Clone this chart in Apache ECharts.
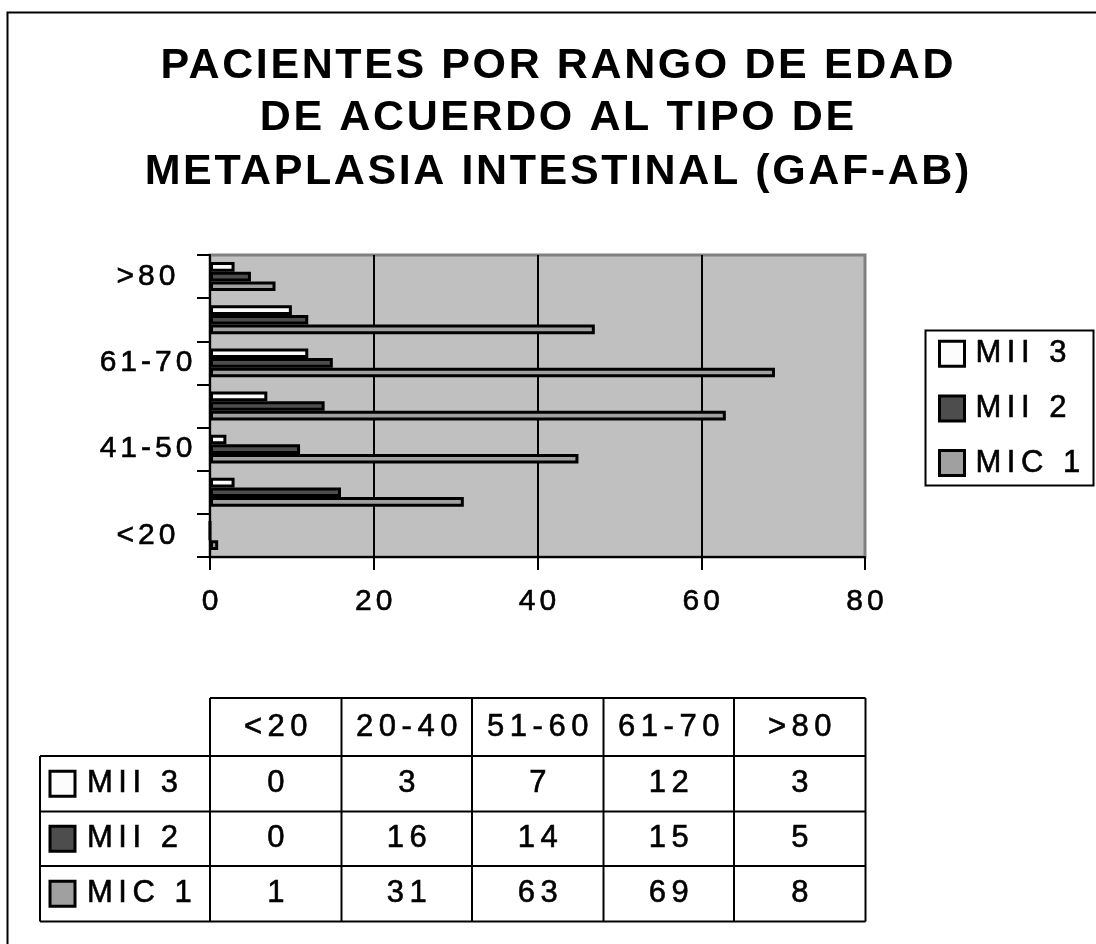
<!DOCTYPE html>
<html>
<head>
<meta charset="utf-8">
<script src="https://cdn.jsdelivr.net/npm/echarts@6/dist/echarts.min.js"></script>
<style>
  html, body { margin: 0; padding: 0; background: #fff; }
  #chart { width: 1096px; height: 944px; }
</style>
</head>
<body>
<div id="chart"></div>
<script>
// ---------------- DATA ----------------
const categories = ['<20', '20-40', '41-50', '51-60', '61-70', '71-80', '>80'];
const mic1 = [1, 31, 45, 63, 69, 47, 8];
const mii2 = [0, 16, 11, 14, 15, 12, 5];
const mii3 = [0, 3, 2, 7, 12, 10, 3];
const seriesNames = ['MII 3', 'MII 2', 'MIC 1'];
const legendOrder = ['MII 3', 'MII 2', 'MIC 1'];
const titleLines = ['PACIENTES POR RANGO DE EDAD', 'DE ACUERDO AL TIPO DE', 'METAPLASIA INTESTINAL (GAF-AB)'];
const tableCategories = ['<20', '20-40', '51-60', '61-70', '>80'];
const tableRows = ['MII 3', 'MII 2', 'MIC 1'];
const xMin = 0, xMax = 80, xStep = 20;

// ---------------- STYLE ----------------
const colors = { 'MIC 1': '#a0a0a0', 'MII 2': '#4d4d4d', 'MII 3': '#fcfcfc' };
const FONT = '"Liberation Sans", Arial, sans-serif';
const AXIS_FS = 30;   // axis labels
const TBL_FS = 31;    // table + legend
const TITLE_FS = 43;
const spacingBySize = { 43: 2.6, 30: 4, 31: 5.5 };
const TXT_STROKE = 0.6;

// letter spacing emulation for canvas text (the reference text is widely spaced)
(function () {
  const P = CanvasRenderingContext2D.prototype;
  function wrap(orig) {
    return function (text, x, y, maxW) {
      const m = /(\d+(?:\.\d+)?)px/.exec(this.font);
      const size = m ? parseFloat(m[1]) : 0;
      const ls = spacingBySize[size] || 0;
      const hasMax = arguments.length > 3 && maxW !== undefined;
      if (ls && ('letterSpacing' in this)) {
        const prev = this.letterSpacing;
        this.letterSpacing = ls + 'px';
        let xx = x;
        if (this.textAlign === 'center') xx += ls / 2;
        else if (this.textAlign === 'right' || this.textAlign === 'end') xx += ls;
        if (hasMax) orig.call(this, text, xx, y, maxW); else orig.call(this, text, xx, y);
        this.letterSpacing = prev;
      } else {
        if (hasMax) orig.call(this, text, x, y, maxW); else orig.call(this, text, x, y);
      }
    };
  }
  P.fillText = wrap(P.fillText);
  P.strokeText = wrap(P.strokeText);
})();

const dataBySeries = { 'MIC 1': mic1, 'MII 2': mii2, 'MII 3': mii3 };

// ---------------- LAYOUT ----------------
const grid = { left: 210, top: 255, width: 655, height: 302 };
const tbl = {
  cols: [40, 210, 341.5, 472, 603.5, 734, 865.5],
  rows: [698, 756, 811.5, 866, 921.5]
};

const graphics = [];
graphics.push({ type: 'rect', z: 0, shape: { x: 7.5, y: 12.5, width: 1200, height: 1200 },
  style: { fill: 'none', stroke: '#000', lineWidth: 2 }, silent: true });
const titleY = [66.5, 118, 172];
titleLines.forEach((t, i) => {
  graphics.push({ type: 'text', z: 5, style: {
    text: t, x: 557, y: titleY[i], font: 'bold ' + TITLE_FS + 'px ' + FONT, fill: '#000',
    align: 'center', verticalAlign: 'middle', textAlign: 'center', textVerticalAlign: 'middle' } });
});
graphics.push({ type: 'rect', z: 0, shape: { x: 925.5, y: 330.5, width: 168, height: 155 },
  style: { fill: '#fff', stroke: '#000', lineWidth: 2 }, silent: true });

const lineStyle = { stroke: '#000', lineWidth: 2 };
const c = tbl.cols, r = tbl.rows;
graphics.push({ type: 'line', shape: { x1: c[1], y1: r[0], x2: c[c.length - 1], y2: r[0] }, style: lineStyle });
for (let i = 1; i < r.length; i++) {
  graphics.push({ type: 'line', shape: { x1: c[0], y1: r[i], x2: c[c.length - 1], y2: r[i] }, style: lineStyle });
}
graphics.push({ type: 'line', shape: { x1: c[0], y1: r[1], x2: c[0], y2: r[r.length - 1] }, style: lineStyle });
for (let j = 1; j < c.length; j++) {
  graphics.push({ type: 'line', shape: { x1: c[j], y1: r[0], x2: c[j], y2: r[r.length - 1] }, style: lineStyle });
}
const txtStyle = (t, x, y, align) => ({
  text: String(t), x: x, y: y, font: TBL_FS + 'px ' + FONT, fill: '#000',
  stroke: '#000', lineWidth: TXT_STROKE,
  align: align, verticalAlign: 'middle', textAlign: align, textVerticalAlign: 'middle' });
tableCategories.forEach((cat, j) => {
  graphics.push({ type: 'text', z: 5, style: txtStyle(cat, (c[j + 1] + c[j + 2]) / 2, (r[0] + r[1]) / 2, 'center') });
});
tableRows.forEach((name, i) => {
  const yc = (r[i + 1] + r[i + 2]) / 2;
  graphics.push({ type: 'rect', z: 5, shape: { x: 50, y: yc - 12.5, width: 25, height: 25 },
    style: { fill: colors[name], stroke: '#000', lineWidth: 3 } });
  graphics.push({ type: 'text', z: 5, style: txtStyle(name, 87, yc, 'left') });
  tableCategories.forEach((cat, j) => {
    const v = dataBySeries[name][categories.indexOf(cat)];
    graphics.push({ type: 'text', z: 5, style: txtStyle(v, (c[j + 1] + c[j + 2]) / 2, yc, 'center') });
  });
});

// ---------------- CHART ----------------
const chart = echarts.init(document.getElementById('chart'), null, { renderer: 'canvas' });
chart.setOption({
  animation: false,
  backgroundColor: '#fff',
  textStyle: { fontFamily: FONT },
  grid: {
    left: grid.left, top: grid.top, width: grid.width, height: grid.height,
    show: true, backgroundColor: '#c0c0c0', borderColor: '#808080', borderWidth: 3,
    containLabel: false
  },
  legend: {
    orient: 'vertical', left: 938, top: 338, padding: 0,
    data: legendOrder, itemWidth: 25, itemHeight: 25, itemGap: 23,
    icon: 'rect',
    itemStyle: { borderColor: '#000', borderWidth: 3 },
    textStyle: { fontSize: TBL_FS, color: '#000', fontFamily: FONT, lineHeight: 30, padding: [0, 0, 0, 6],
      textBorderColor: '#000', textBorderWidth: TXT_STROKE },
    selectedMode: false
  },
  xAxis: {
    type: 'value', min: xMin, max: xMax, interval: xStep,
    axisLine: { show: true, lineStyle: { color: '#000', width: 2 } },
    axisTick: { show: true, length: 13, lineStyle: { color: '#000', width: 2 } },
    axisLabel: { fontSize: AXIS_FS, color: '#000', margin: 30, lineHeight: 30, fontFamily: FONT,
      textBorderColor: '#000', textBorderWidth: TXT_STROKE },
    splitLine: { show: true, showMinLine: false, showMaxLine: false, lineStyle: { color: '#000', width: 2 } }
  },
  yAxis: {
    type: 'category', data: categories,
    axisLine: { show: true, lineStyle: { color: '#000', width: 2 } },
    axisTick: { show: true, interval: 0, length: 13, lineStyle: { color: '#000', width: 2 } },
    axisLabel: { interval: 1, fontSize: AXIS_FS, color: '#000', margin: 64, align: 'center', fontFamily: FONT,
      textBorderColor: '#000', textBorderWidth: TXT_STROKE },
    splitLine: { show: false }
  },
  series: seriesNames.map(name => ({
    name: name, type: 'bar', data: dataBySeries[name],
    barGap: '0%', barCategoryGap: '33%',
    itemStyle: { color: colors[name], borderColor: '#000', borderWidth: 3 },
    emphasis: { disabled: true }
  })),
  graphic: graphics
});
</script>
</body>
</html>
